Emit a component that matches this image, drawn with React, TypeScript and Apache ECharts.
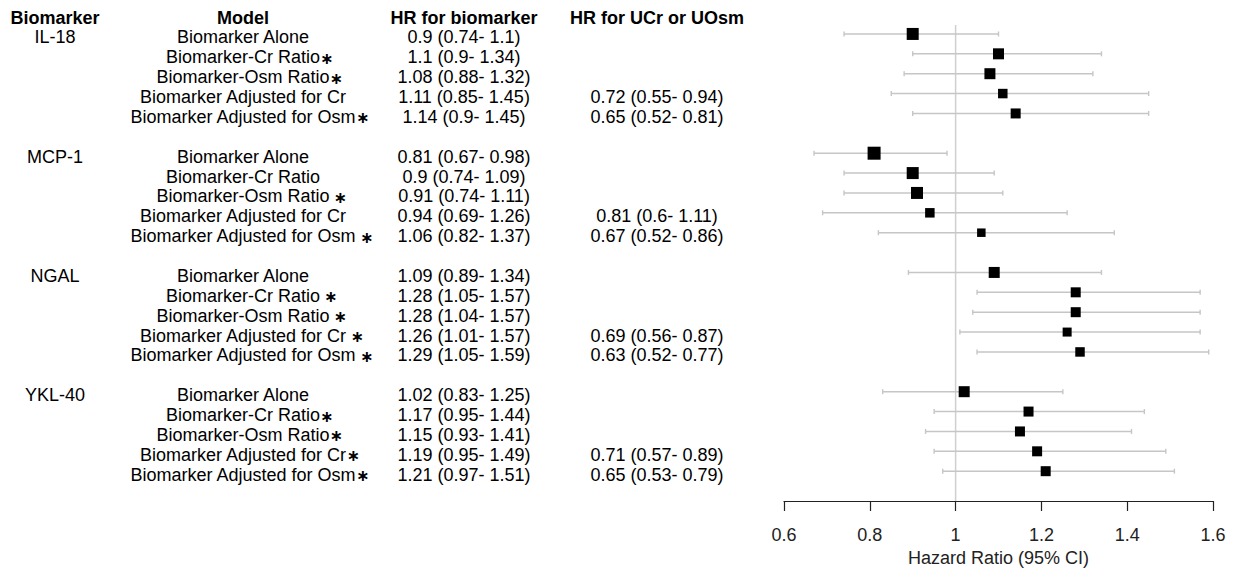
import React, { useEffect, useRef } from "react";
import * as echarts from "echarts";

// ---------- data ----------
const BIOMARKERS = ["IL-18", "MCP-1", "NGAL", "YKL-40"];
const MODEL_NAMES = [
  "Biomarker Alone",
  "Biomarker-Cr Ratio",
  "Biomarker-Osm Ratio",
  "Biomarker Adjusted for Cr",
  "Biomarker Adjusted for Osm",
];
const MODEL_STARS = [
  ["", "∗", "∗", "", "∗"],
  ["", "", " ∗", "", " ∗"],
  ["", " ∗", " ∗", " ∗", " ∗"],
  ["", "∗", "∗", "∗", "∗"],
];
const HEADERS = ["Biomarker", "Model", "HR for biomarker", "HR for UCr or UOsm"];

const HR = [
  [0.9, 1.1, 1.08, 1.11, 1.14],
  [0.81, 0.9, 0.91, 0.94, 1.06],
  [1.09, 1.28, 1.28, 1.26, 1.29],
  [1.02, 1.17, 1.15, 1.19, 1.21],
];
const HR_LO = [
  [0.74, 0.9, 0.88, 0.85, 0.9],
  [0.67, 0.74, 0.74, 0.69, 0.82],
  [0.89, 1.05, 1.04, 1.01, 1.05],
  [0.83, 0.95, 0.93, 0.95, 0.97],
];
const HR_HI = [
  [1.1, 1.34, 1.32, 1.45, 1.45],
  [0.98, 1.09, 1.11, 1.26, 1.37],
  [1.34, 1.57, 1.57, 1.57, 1.59],
  [1.25, 1.44, 1.41, 1.49, 1.51],
];
const U_HR = [
  [null, null, null, 0.72, 0.65],
  [null, null, null, 0.81, 0.67],
  [null, null, null, 0.69, 0.63],
  [null, null, null, 0.71, 0.65],
];
const U_LO = [
  [null, null, null, 0.55, 0.52],
  [null, null, null, 0.6, 0.52],
  [null, null, null, 0.56, 0.52],
  [null, null, null, 0.57, 0.53],
];
const U_HI = [
  [null, null, null, 0.94, 0.81],
  [null, null, null, 1.11, 0.86],
  [null, null, null, 0.87, 0.77],
  [null, null, null, 0.89, 0.79],
];
// box weights (drawn square size)
const BOX_SIZE = [
  [12, 11, 11, 9.5, 10],
  [13, 12, 12, 9.5, 8.5],
  [11, 10, 10, 9, 9.5],
  [11, 10, 10, 10, 10],
];
const X_TICKS = [0.6, 0.8, 1, 1.2, 1.4, 1.6];
const REF_VALUE = 1;
const X_NAME = "Hazard Ratio (95% CI)";

// ---------- layout ----------
const ROWS_PER_GROUP = 6;
const ROW_MIN = -1.5;
const ROW_MAX = 23.5;
const REF_TOP = -0.45;
const ROW_H = 438 / 22;
const GRID_TOP = 34 + ROW_MIN * ROW_H;
const GRID_BOTTOM = 572 - (34 + ROW_MAX * ROW_H);
const COL_X = [55, 243, 464, 657];
const TEXT_DY = 3.5;
const FONT = "'Liberation Sans', Arial, sans-serif";
const FS = 18;
const CI_COLOR = "#c6c6c6";

const fmt = (v: number, lo: number, hi: number) => `${v} (${lo}- ${hi})`;

let measureCtx: CanvasRenderingContext2D | null = null;
function textWidth(t: string, bold = false) {
  if (!measureCtx) measureCtx = document.createElement("canvas").getContext("2d");
  if (!measureCtx) return t.length * 9;
  measureCtx.font = `${bold ? "bold " : ""}${FS}px ${FONT}`;
  return measureCtx.measureText(t).width;
}

export default function App() {
  const ref = useRef<HTMLDivElement>(null);

  useEffect(() => {
    if (!ref.current) return;
    const chart = echarts.init(ref.current, undefined, { renderer: "svg" });

    type Cell = { row: number; text: string; col: number; bold?: boolean; star?: string };
    const cells: Cell[] = [];
    HEADERS.forEach((h, c) => cells.push({ row: -1, text: h, col: c, bold: true }));
    const ciData: number[][] = [];
    const boxData: number[][] = [];
    BIOMARKERS.forEach((b, g) => {
      cells.push({ row: g * ROWS_PER_GROUP, text: b, col: 0 });
      MODEL_NAMES.forEach((m, k) => {
        const row = g * ROWS_PER_GROUP + k;
        cells.push({ row, text: m, col: 1, star: MODEL_STARS[g][k] });
        cells.push({ row, text: fmt(HR[g][k], HR_LO[g][k], HR_HI[g][k]), col: 2 });
        const u = U_HR[g][k];
        if (u !== null) {
          cells.push({ row, text: fmt(u, U_LO[g][k] as number, U_HI[g][k] as number), col: 3 });
        }
        ciData.push([HR_LO[g][k], HR_HI[g][k], row]);
        boxData.push([HR[g][k], row, BOX_SIZE[g][k]]);
      });
    });

    const option: any = {
      animation: false,
      grid: { left: 784, right: 21, top: GRID_TOP, bottom: GRID_BOTTOM, containLabel: false },
      xAxis: {
        type: "value",
        min: X_TICKS[0],
        max: X_TICKS[X_TICKS.length - 1],
        interval: 0.2,
        splitLine: { show: false },
        axisLine: { show: true, onZero: false, lineStyle: { color: "#222", width: 1.2 } },
        axisTick: { show: true, length: 10, lineStyle: { color: "#222", width: 1.2 } },
        axisLabel: {
          fontSize: FS,
          fontFamily: FONT,
          color: "#222",
          margin: 25,
          formatter: (v: number) => String(+v.toFixed(2)),
        },
        name: X_NAME,
        nameLocation: "middle",
        nameGap: 48,
        nameTextStyle: { fontSize: FS, fontFamily: FONT, color: "#222" },
      },
      yAxis: {
        type: "value",
        inverse: true,
        min: ROW_MIN,
        max: ROW_MAX,
        show: false,
        splitLine: { show: false },
      },
      series: [
        {
          type: "custom",
          name: "ref",
          clip: false,
          data: [[REF_VALUE, REF_TOP, ROW_MAX]],
          encode: { x: 0, y: [1, 2] },
          renderItem: (_p: any, api: any) => {
            const a = api.coord([api.value(0), api.value(1)]);
            const b = api.coord([api.value(0), api.value(2)]);
            return {
              type: "line",
              shape: { x1: a[0], y1: a[1], x2: b[0], y2: b[1] },
              style: { stroke: "#cfcfcf", lineWidth: 1.5 },
            };
          },
          z: 1,
        },
        {
          type: "custom",
          name: "ci",
          clip: false,
          data: ciData,
          encode: { x: [0, 1], y: 2 },
          renderItem: (_p: any, api: any) => {
            const a = api.coord([api.value(0), api.value(2)]);
            const b = api.coord([api.value(1), api.value(2)]);
            const st = { stroke: CI_COLOR, lineWidth: 1.4 };
            return {
              type: "group",
              children: [
                { type: "line", shape: { x1: a[0], y1: a[1], x2: b[0], y2: b[1] }, style: st },
                { type: "line", shape: { x1: a[0], y1: a[1] - 2.5, x2: a[0], y2: a[1] + 2.5 }, style: st },
                { type: "line", shape: { x1: b[0], y1: b[1] - 2.5, x2: b[0], y2: b[1] + 2.5 }, style: st },
              ],
            };
          },
          z: 2,
        },
        {
          type: "scatter",
          name: "hr",
          data: boxData,
          symbol: "rect",
          symbolSize: (v: number[]) => v[2],
          itemStyle: { color: "#000", opacity: 1 },
          encode: { x: 0, y: 1 },
          z: 3,
        },
        {
          type: "custom",
          name: "table",
          clip: false,
          data: cells.map((c) => [X_TICKS[0], c.row]),
          encode: { x: 0, y: 1 },
          renderItem: (p: any, api: any) => {
            const c = cells[p.dataIndex];
            const y = api.coord([X_TICKS[0], c.row])[1] + TEXT_DY;
            const x = COL_X[c.col];
            const children: any[] = [
              {
                type: "text",
                x,
                y,
                style: {
                  text: c.text,
                  fill: "#000",
                  fontSize: FS,
                  fontFamily: FONT,
                  fontWeight: c.bold ? "bold" : "normal",
                  align: "center",
                  verticalAlign: "middle",
                },
              },
            ];
            if (c.star) {
              const w = textWidth(c.text, !!c.bold);
              const sp = c.star.startsWith(" ") ? 4 : 0;
              children.push({
                type: "text",
                x: x + w / 2 + sp,
                y: y + 1,
                style: {
                  text: "∗",
                  fill: "#000",
                  fontSize: 16,
                  fontFamily: "'DejaVu Sans', sans-serif",
                  fontWeight: "bold",
                  align: "left",
                  verticalAlign: "middle",
                },
              });
            }
            return { type: "group", children };
          },
          z: 4,
        },
      ],
    };
    chart.setOption(option);
    return () => chart.dispose();
  }, []);

  return (
    <div
      ref={ref}
      style={{ position: "fixed", left: 0, top: 0, width: 1234, height: 572, background: "#fff" }}
    />
  );
}
